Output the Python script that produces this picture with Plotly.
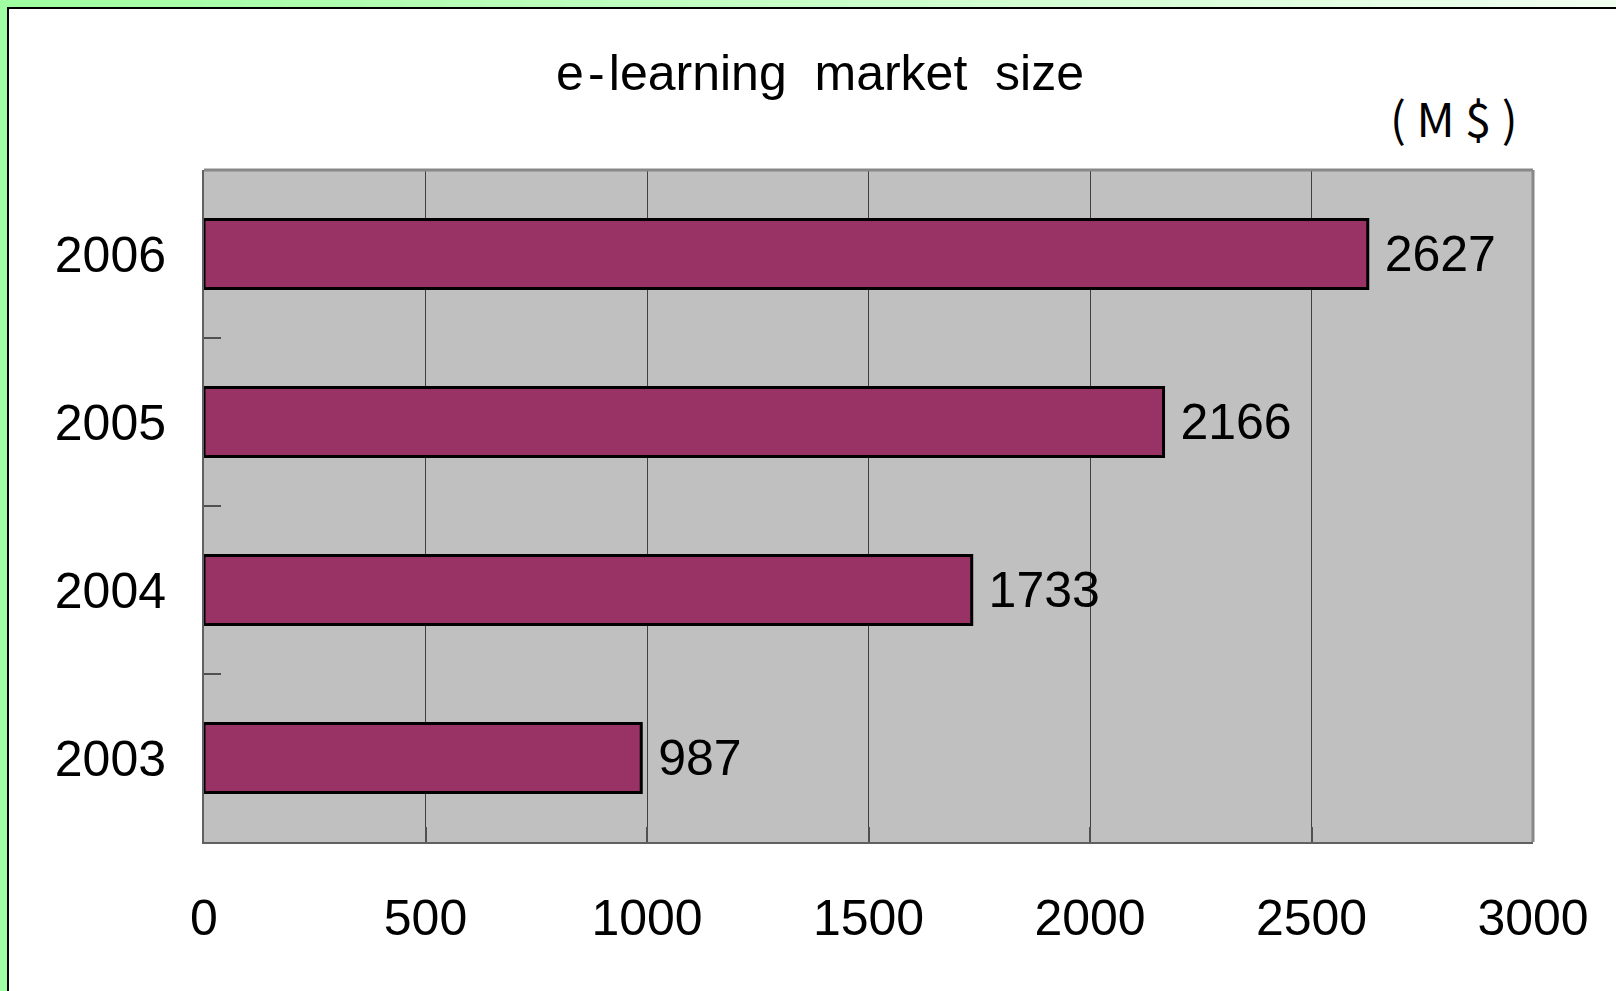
import plotly.graph_objects as go

# ---- data ----
years = ["2003", "2004", "2005", "2006"]
market_size = [987, 1733, 2166, 2627]
x_tick_vals = [0, 500, 1000, 1500, 2000, 2500, 3000]
x_tick_text = ["0", "500", "1000", "1500", "2000", "2500", "3000"]
title_text = "e\u200a-\u200alearning\u00a0 market\u00a0 size"
unit_text = "( M $ )"

# ---- layout geometry (pixels) ----
W, H = 1616, 991
L, R, T, B = 204, 1533, 170, 842
PW, PH = R - L, B - T


def px(xp):
    return (xp - L) / PW


def py(yp):
    return (B - yp) / PH


FONT = "Liberation Sans, Arial"
FS = 50

fig = go.Figure()
fig.add_trace(go.Bar(
    y=years,
    x=market_size,
    orientation="h",
    width=0.41,
    marker=dict(color="#993366", line=dict(color="#000000", width=3)),
    text=["\u00a0" + str(v) for v in market_size],
    textposition="outside",
    textfont=dict(family=FONT, size=FS, color="#000000"),
    constraintext="none",
    cliponaxis=False,
    hoverinfo="skip",
))

shapes = []
# top gradient band (green -> pale)
n = 40
c0 = (160, 255, 160)
c1 = (240, 255, 240)
for i in range(n):
    t = i / (n - 1)
    col = "rgb(%d,%d,%d)" % tuple(round(a + (b - a) * t) for a, b in zip(c0, c1))
    shapes.append(dict(type="rect", xref="paper", yref="paper",
                       x0=px(W * i / n), x1=px(W * (i + 1) / n + 1),
                       y0=py(8), y1=py(-2), fillcolor=col, line=dict(width=0),
                       layer="below"))
# white chart area
shapes.append(dict(type="rect", xref="paper", yref="paper",
                   x0=px(8), x1=px(W + 40), y0=py(H + 40), y1=py(8),
                   fillcolor="#ffffff", line=dict(color="#000000", width=2),
                   layer="below"))
# plot background
shapes.append(dict(type="rect", xref="paper", yref="paper",
                   x0=0, x1=1, y0=0, y1=1, fillcolor="#c0c0c0",
                   line=dict(width=0), layer="below"))
# top/right border
shapes.append(dict(type="line", xref="paper", yref="paper", x0=0, x1=1, y0=1, y1=1,
                   line=dict(color="#888888", width=3), layer="above"))
shapes.append(dict(type="line", xref="paper", yref="paper", x0=1, x1=1, y0=0, y1=1,
                   line=dict(color="#888888", width=3), layer="above"))

fig.update_layout(
    width=W, height=H,
    margin=dict(l=L, r=W - R, t=T, b=H - B, pad=0),
    paper_bgcolor="#a0ffa0",
    plot_bgcolor="rgba(0,0,0,0)",
    showlegend=False,
    shapes=shapes,
    title=dict(text=title_text, x=820 / W, xanchor="center", xref="container",
               y=1 - 72 / H, yanchor="middle", yref="container",
               font=dict(family=FONT, size=FS, color="#000000")),
    annotations=[dict(text=unit_text, xref="paper", yref="paper",
                      x=px(1454), y=py(116), xanchor="center", yanchor="middle",
                      showarrow=False,
                      font=dict(family="Noto Sans CJK JP", size=47, color="#000000"))],
    xaxis=dict(range=[0, 3000], tickvals=x_tick_vals, ticktext=x_tick_text,
               showgrid=True, gridcolor="#404040", gridwidth=1,
               ticks="inside", ticklen=15, tickcolor="#505050", tickwidth=2,
               showline=True, linecolor="#606060", linewidth=2,
               zeroline=False, ticklabelstandoff=31,
               tickfont=dict(family=FONT, size=FS, color="#000000"),
               fixedrange=True),
    yaxis=dict(type="category", categoryorder="array", categoryarray=years,
               range=[-0.5, 3.5], showgrid=False,
               ticks="inside", tickson="boundaries", ticklen=17,
               tickcolor="#505050", tickwidth=2,
               showline=True, linecolor="#606060", linewidth=2,
               ticklabelstandoff=26,
               tickfont=dict(family=FONT, size=FS, color="#000000"),
               fixedrange=True),
)

fig.write_html("out.html")
